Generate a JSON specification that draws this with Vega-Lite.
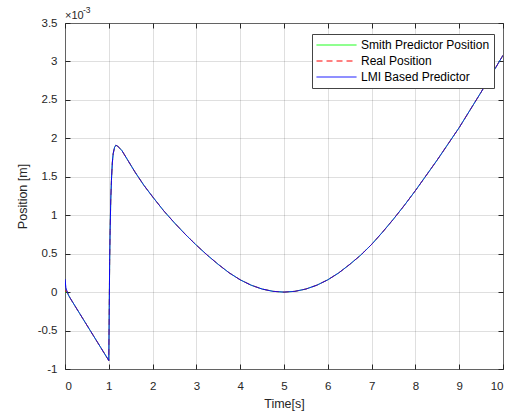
{
  "$schema": "https://vega.github.io/schema/vega-lite/v6.json",
  "width": 438,
  "height": 346,
  "autosize": {"type": "none"},
  "padding": {"left": 65, "top": 23, "right": 14, "bottom": 45},
  "background": "white",
  "config": {
    "font": "Liberation Sans",
    "view": {"stroke": "#6e6e6e", "strokeWidth": 1},
    "axis": {
      "labelFont": "Liberation Sans",
      "labelFontSize": 11.5,
      "labelColor": "#262626",
      "titleFont": "Liberation Sans",
      "titleFontSize": 12.5,
      "titleFontWeight": "normal",
      "titleColor": "#262626",
      "gridColor": "#262626",
      "gridOpacity": 0.15,
      "tickColor": "#262626",
      "tickSize": -5,
      "domain": false
    },
    "legend": {
      "orient": "none", "legendX": 247, "legendY": 11, "title": null,
      "symbolType": "stroke", "symbolSize": 1600, "symbolStrokeWidth": 1,
      "clipHeight": 14, "rowPadding": 2, "padding": 4,
      "strokeColor": "#444444", "fillColor": "white",
      "labelFont": "Liberation Sans", "labelFontSize": 12, "labelColor": "black", "labelOffset": 4
    }
  },
  "datasets": {
    "curve": [
      {"t": 0, "smith": 0, "real": 0, "lmi": 0.17},
      {"t": 0.02, "smith": 0.0, "real": 0.02, "lmi": 0.06},
      {"t": 0.04, "smith": 0.01, "real": 0.02, "lmi": 0.02},
      {"t": 0.08, "smith": -0.04, "real": -0.04, "lmi": -0.04},
      {"t": 0.12, "smith": -0.08, "real": -0.08, "lmi": -0.08},
      {"t": 0.25, "smith": -0.2, "real": -0.2, "lmi": -0.2},
      {"t": 0.5, "smith": -0.43, "real": -0.43, "lmi": -0.43},
      {"t": 0.75, "smith": -0.66, "real": -0.66, "lmi": -0.66},
      {"t": 1.0, "smith": -0.89, "real": -0.89, "lmi": -0.89},
      {"t": 1.01, "smith": -0.2, "real": -0.2, "lmi": -0.2},
      {"t": 1.02, "smith": 0.4, "real": 0.4, "lmi": 0.4},
      {"t": 1.03, "smith": 0.8, "real": 0.8, "lmi": 0.8},
      {"t": 1.045, "smith": 1.2, "real": 1.2, "lmi": 1.2},
      {"t": 1.06, "smith": 1.45, "real": 1.45, "lmi": 1.45},
      {"t": 1.08, "smith": 1.68, "real": 1.68, "lmi": 1.68},
      {"t": 1.1, "smith": 1.8, "real": 1.8, "lmi": 1.8},
      {"t": 1.13, "smith": 1.88, "real": 1.88, "lmi": 1.88},
      {"t": 1.16, "smith": 1.91, "real": 1.91, "lmi": 1.91},
      {"t": 1.2, "smith": 1.9, "real": 1.9, "lmi": 1.9},
      {"t": 1.3, "smith": 1.84, "real": 1.84, "lmi": 1.84},
      {"t": 1.45, "smith": 1.7, "real": 1.7, "lmi": 1.7},
      {"t": 1.6, "smith": 1.56, "real": 1.56, "lmi": 1.56},
      {"t": 1.8, "smith": 1.39, "real": 1.39, "lmi": 1.39},
      {"t": 2.0, "smith": 1.24, "real": 1.24, "lmi": 1.24},
      {"t": 2.25, "smith": 1.06, "real": 1.06, "lmi": 1.06},
      {"t": 2.5, "smith": 0.9, "real": 0.9, "lmi": 0.9},
      {"t": 2.75, "smith": 0.75, "real": 0.75, "lmi": 0.75},
      {"t": 3.0, "smith": 0.61, "real": 0.61, "lmi": 0.61},
      {"t": 3.25, "smith": 0.48, "real": 0.48, "lmi": 0.48},
      {"t": 3.5, "smith": 0.36, "real": 0.36, "lmi": 0.36},
      {"t": 3.75, "smith": 0.25, "real": 0.25, "lmi": 0.25},
      {"t": 4.0, "smith": 0.16, "real": 0.16, "lmi": 0.16},
      {"t": 4.25, "smith": 0.09, "real": 0.09, "lmi": 0.09},
      {"t": 4.5, "smith": 0.04, "real": 0.04, "lmi": 0.04},
      {"t": 4.75, "smith": 0.01, "real": 0.01, "lmi": 0.01},
      {"t": 5.0, "smith": 0.0, "real": 0.0, "lmi": 0.0},
      {"t": 5.25, "smith": 0.01, "real": 0.01, "lmi": 0.01},
      {"t": 5.5, "smith": 0.04, "real": 0.04, "lmi": 0.04},
      {"t": 5.75, "smith": 0.09, "real": 0.09, "lmi": 0.09},
      {"t": 6.0, "smith": 0.16, "real": 0.16, "lmi": 0.16},
      {"t": 6.25, "smith": 0.25, "real": 0.25, "lmi": 0.25},
      {"t": 6.5, "smith": 0.36, "real": 0.36, "lmi": 0.36},
      {"t": 6.75, "smith": 0.48, "real": 0.48, "lmi": 0.48},
      {"t": 7.0, "smith": 0.62, "real": 0.62, "lmi": 0.62},
      {"t": 7.25, "smith": 0.78, "real": 0.78, "lmi": 0.78},
      {"t": 7.5, "smith": 0.95, "real": 0.95, "lmi": 0.95},
      {"t": 7.75, "smith": 1.13, "real": 1.13, "lmi": 1.13},
      {"t": 8.0, "smith": 1.32, "real": 1.32, "lmi": 1.32},
      {"t": 8.25, "smith": 1.52, "real": 1.52, "lmi": 1.52},
      {"t": 8.5, "smith": 1.72, "real": 1.72, "lmi": 1.72},
      {"t": 8.75, "smith": 1.93, "real": 1.93, "lmi": 1.93},
      {"t": 9.0, "smith": 2.14, "real": 2.14, "lmi": 2.14},
      {"t": 9.25, "smith": 2.37, "real": 2.37, "lmi": 2.37},
      {"t": 9.5, "smith": 2.6, "real": 2.6, "lmi": 2.6},
      {"t": 9.75, "smith": 2.84, "real": 2.84, "lmi": 2.84},
      {"t": 10.0, "smith": 3.08, "real": 3.08, "lmi": 3.08}
    ],
    "note": [
      {"t": 0, "y": 3.5, "base": "×10", "exp": "-3"}
    ]
  },
  "layer": [
    {
      "data": {"name": "curve"},
      "mark": {"type": "line", "strokeWidth": 0.8, "clip": true},
      "encoding": {
        "x": {
          "field": "t", "type": "quantitative",
          "scale": {"domain": [0, 10], "nice": false},
          "axis": {
            "values": [0, 1, 2, 3, 4, 5, 6, 7, 8, 9, 10], "format": "d",
            "title": "Time[s]", "grid": true, "labelPadding": 16,
            "titleY": 34, "titleBaseline": "middle"
          }
        },
        "y": {
          "field": "smith", "type": "quantitative",
          "scale": {"domain": [-1, 3.5], "nice": false, "zero": false},
          "axis": {
            "values": [-1, -0.5, 0, 0.5, 1, 1.5, 2, 2.5, 3, 3.5], "format": "~g",
            "labelExpr": "replace(datum.label, '−', '-')",
            "title": "Position [m]", "grid": true, "labelPadding": 13,
            "titleX": -43, "titleY": 173, "titleBaseline": "middle", "titleAngle": -90
          }
        },
        "color": {
          "datum": "Smith Predictor Position", "type": "nominal",
          "scale": {"domain": ["Smith Predictor Position", "Real Position", "LMI Based Predictor"], "range": ["#00ff00", "#ff0000", "#0000ff"]}
        },
        "strokeDash": {
          "datum": "Smith Predictor Position", "type": "nominal",
          "scale": {"domain": ["Smith Predictor Position", "Real Position", "LMI Based Predictor"], "range": [[1, 0], [6, 4], [1, 0]]}
        }
      }
    },
    {
      "data": {"name": "curve"},
      "mark": {"type": "line", "strokeWidth": 0.8, "clip": true},
      "encoding": {
        "x": {"field": "t", "type": "quantitative", "scale": {"domain": [0, 10], "nice": false}, "axis": null},
        "y": {"field": "real", "type": "quantitative", "scale": {"domain": [-1, 3.5], "nice": false, "zero": false}, "axis": null},
        "color": {"datum": "Real Position", "type": "nominal"},
        "strokeDash": {"datum": "Real Position", "type": "nominal"}
      }
    },
    {
      "data": {"name": "curve"},
      "mark": {"type": "line", "strokeWidth": 1, "clip": true},
      "encoding": {
        "x": {"field": "t", "type": "quantitative", "scale": {"domain": [0, 10], "nice": false}, "axis": null},
        "y": {"field": "lmi", "type": "quantitative", "scale": {"domain": [-1, 3.5], "nice": false, "zero": false}, "axis": null},
        "color": {"datum": "LMI Based Predictor", "type": "nominal"},
        "strokeDash": {"datum": "LMI Based Predictor", "type": "nominal"}
      }
    },
    {
      "data": {"name": "note"},
      "mark": {"type": "text", "align": "left", "baseline": "alphabetic", "dy": -4, "fontSize": 11, "color": "#262626", "font": "Liberation Sans"},
      "encoding": {
        "x": {
          "field": "t", "type": "quantitative",
          "scale": {"domain": [0, 10], "nice": false},
          "axis": {"orient": "top", "labels": false, "title": null, "grid": false, "values": [0, 1, 2, 3, 4, 5, 6, 7, 8, 9, 10]}
        },
        "y": {
          "field": "y", "type": "quantitative",
          "scale": {"domain": [-1, 3.5], "nice": false, "zero": false},
          "axis": {"orient": "right", "labels": false, "title": null, "grid": false, "values": [-1, -0.5, 0, 0.5, 1, 1.5, 2, 2.5, 3, 3.5]}
        },
        "text": {"field": "base"}
      }
    },
    {
      "data": {"name": "note"},
      "mark": {"type": "text", "align": "left", "baseline": "alphabetic", "dx": 18, "dy": -10, "fontSize": 8.5, "color": "#262626", "font": "Liberation Sans"},
      "encoding": {
        "x": {"field": "t", "type": "quantitative", "scale": {"domain": [0, 10], "nice": false}, "axis": null},
        "y": {"field": "y", "type": "quantitative", "scale": {"domain": [-1, 3.5], "nice": false, "zero": false}, "axis": null},
        "text": {"field": "exp"}
      }
    }
  ],
  "resolve": {"axis": {"x": "independent", "y": "independent"}}
}
